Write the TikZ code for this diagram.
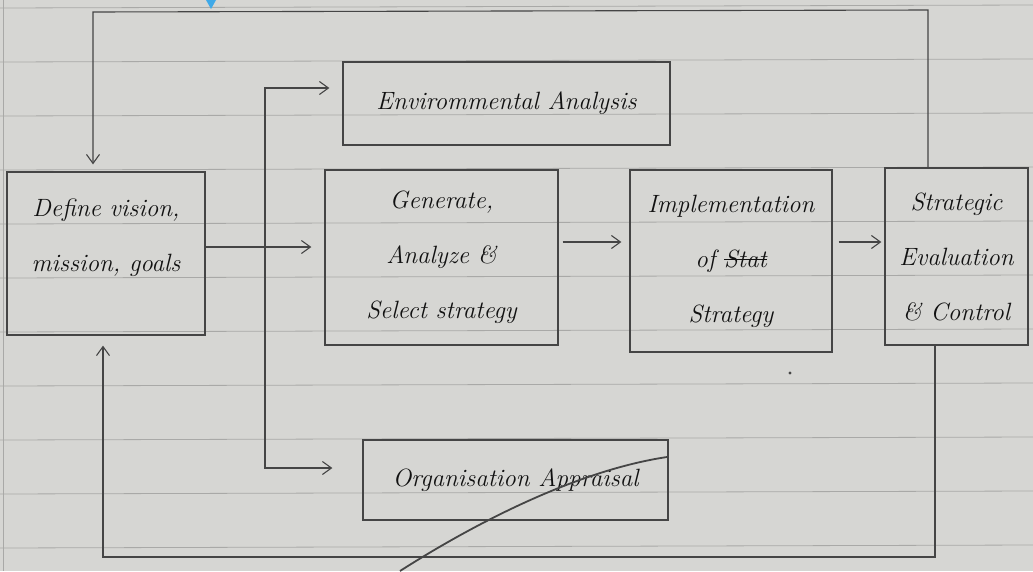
\documentclass[tikz,border=0pt]{standalone}
\usetikzlibrary{arrows.meta}
\definecolor{paper}{HTML}{D6D6D3}
\definecolor{ruling}{HTML}{A9A9A7}
\definecolor{pencil}{HTML}{454545}
\definecolor{ink}{HTML}{111111}
\definecolor{bluemark}{HTML}{3FA9E8}
\newcommand{\strikeword}[1]{{\setbox0\hbox{#1}\rlap{\raisebox{0.28em}{\rule{\wd0}{1.5pt}}}\box0}}
\tikzset{
  box/.style={draw=pencil, line width=1.3pt, inner sep=0pt, text=ink,
    align=center, font=\fontsize{25}{55}\selectfont\itshape},
  conn/.style={draw=pencil, line width=1.1pt},
  arr/.style={conn, -{Straight Barb[length=9pt,width=13pt,line width=1.1pt]}},
  rule/.style={draw=ruling, line width=0.8pt}
}
\begin{document}
\begin{tikzpicture}[x=1pt,y=-1pt]
  \fill[paper] (0,0) rectangle (1033,571);
  \useasboundingbox (0,0) rectangle (1033,571);
  % ruled paper
  \foreach \yy in {8,62,116,170,224,278,332,386,440,494,548}
    \draw[rule] (0,\yy) -- (1033,\yy-3);
  \draw[rule] (3,0) -- (3,571);
  % small marks
  \fill[bluemark] (206,0) -- (216,0) -- (211,9) -- cycle;
  \fill[pencil] (790,373) circle (1.6);

  % boxes
  \node[box, minimum width=198pt, minimum height=163pt] (define) at (106,253.5)
    {Define vision,\\ mission, goals\\[-18pt]};
  \node[box, minimum width=327pt, minimum height=83pt] (env) at (506.5,103.5)
    {Envirommental Analysis};
  \node[box, minimum width=233pt, minimum height=175pt] (gen) at (441.5,257.5)
    {Generate,\\ Analyze \&\\ Select strategy};
  \node[box, minimum width=202pt, minimum height=182pt] (impl) at (731,261)
    {Implementation\\ of \strikeword{Stat}\\ Strategy};
  \node[box, minimum width=143pt, minimum height=177pt] (strat) at (956.5,256.5)
    {Strategic\\ Evaluation\\ \& Control};
  \node[box, minimum width=305pt, minimum height=80pt] (org) at (515.5,480)
    {Organisation Appraisal};

  % helper coordinates
  \coordinate (l1) at (0,247);
  \coordinate (l2) at (0,242);
  \coordinate (bt) at (265,88);
  \coordinate (bb) at (265,468);
  \coordinate (tr) at (928,10);
  \coordinate (tl) at (93,12);
  \coordinate (br) at (935,557);
  \coordinate (bl) at (103,557);

  % main flow
  \draw[arr, shorten >=13pt] (define.east |- l1) -- (gen.west |- l1);
  \draw[arr, shorten <=4pt, shorten >=8pt] (gen.east |- l2) -- (impl.west |- l2);
  \draw[arr, shorten <=6pt, shorten >=3pt] (impl.east |- l2) -- (strat.west |- l2);

  % branch to environment / organisation
  \draw[arr, shorten >=13pt] (bb) -- (bt) -- (bt -| env.west);
  \draw[arr, shorten >=30pt] (bt) -- (bb) -- (bb -| org.west);

  % feedback loops
  \draw[arr, shorten >=7pt] (tr |- strat.north) -- (tr) -- (tl) -- (tl |- define.north);
  \draw[arr, shorten >=10pt] (br |- strat.south) -- (br) -- (bl) -- (bl |- define.south);

  % stray pencil stroke
  \draw[draw=pencil, line width=1.8pt] (400,571) .. controls (480,520) and (580,470) .. (667,457);
\end{tikzpicture}
\end{document}
